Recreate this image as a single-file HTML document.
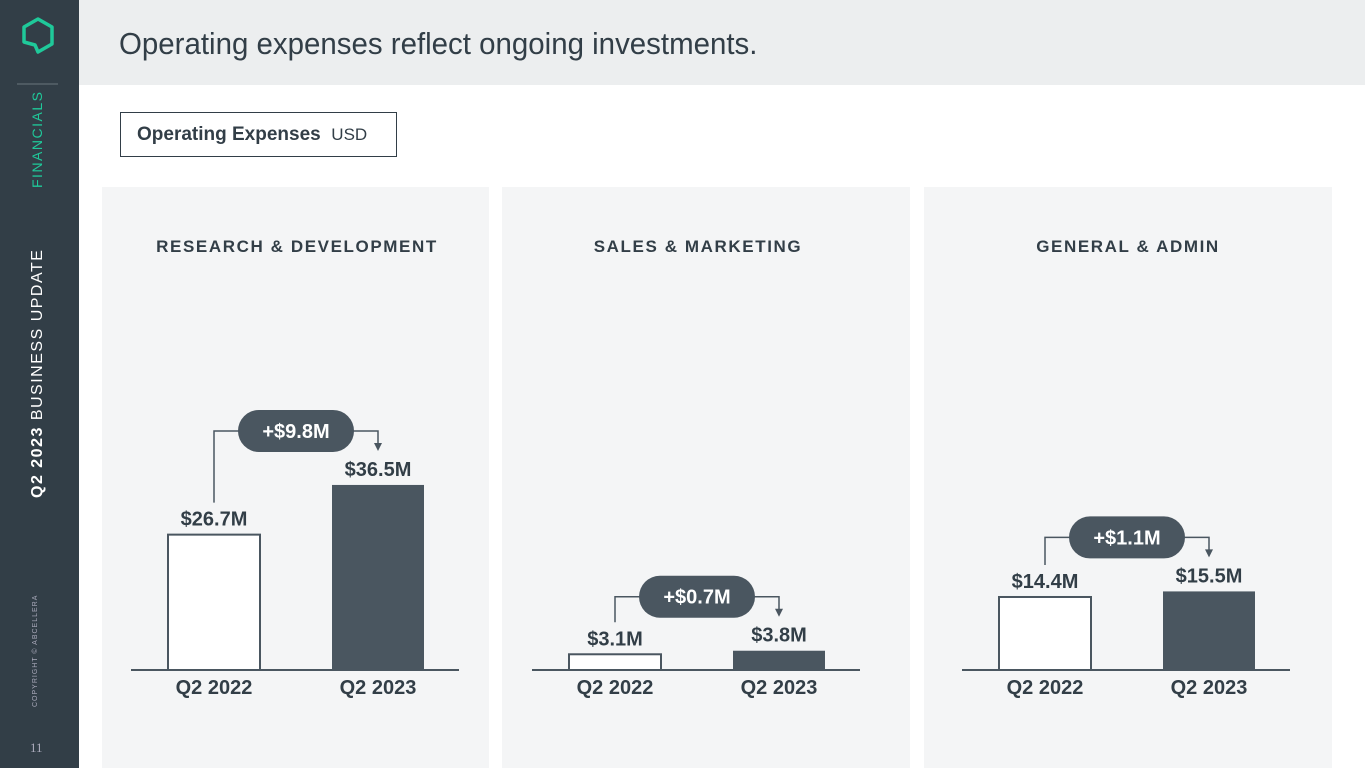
<!DOCTYPE html>
<html><head><meta charset="utf-8"><style>
body{margin:0;width:1365px;height:768px;overflow:hidden;background:#fff;font-family:"Liberation Sans",sans-serif;position:relative}
#side{position:absolute;left:0;top:0;width:79px;height:768px;background:#323e47}
#hdr{position:absolute;left:79px;top:0;width:1286px;height:85px;background:#eceeef}
#hdr h1{margin:0;position:absolute;left:40px;top:26px;font-weight:400;font-size:31px;color:#323e47;letter-spacing:0px;transform:scaleX(.95);transform-origin:left;white-space:nowrap}
#usd{position:absolute;left:120px;top:112px;width:277px;height:45px;border:1px solid #323e47;box-sizing:border-box;font-size:19px;color:#323e47;line-height:43px;padding-left:16px}
.panel{position:absolute;top:187px;height:581px;background:#f4f5f6}
.rot{position:absolute;transform:rotate(-90deg);transform-origin:left top;white-space:nowrap}
svg{position:absolute;left:0;top:0}
</style></head><body>
<div id="side">
<svg width="79" height="100"><polygon points="24,27 38,19 52,27 52,44 38,52 35,45 24,42" fill="none" stroke="#1fc99a" stroke-width="3.5" stroke-linejoin="round"/><line x1="17" y1="84" x2="58" y2="84" stroke="#6b767e" stroke-width="1"/></svg>
<div class="rot" style="left:29px;top:188px;color:#1fc99a;font-size:14px;letter-spacing:1.5px">FINANCIALS</div>
<div class="rot" style="left:29px;top:498px;color:#fff;font-size:16px;letter-spacing:1.5px"><b>Q2 2023</b> BUSINESS UPDATE</div>
<div class="rot" style="left:32px;top:707px;color:#aab;font-size:7px;letter-spacing:1px">COPYRIGHT © ABCELLERA</div>
<div style="position:absolute;left:30px;top:740px;color:#aab;font-size:13px;font-family:'Liberation Serif',serif">11</div>
</div>
<div id="hdr"><h1>Operating expenses reflect ongoing investments.</h1></div>
<div id="usd"><b>Operating Expenses</b>&nbsp; <span style="font-size:17px">USD</span></div>
<div class="panel" style="left:102px;width:387px"></div>
<div class="panel" style="left:502px;width:408px"></div>
<div class="panel" style="left:924px;width:408px"></div>
<svg id="chart" width="1365" height="768"></svg>
<script>
const categories=["RESEARCH & DEVELOPMENT","SALES & MARKETING","GENERAL & ADMIN"];
const years=["Q2 2022","Q2 2023"];
const v2022=[26.7,3.1,14.4];
const v2023=[36.5,3.8,15.5];
const deltas=["+$9.8M","+$0.7M","+$1.1M"];
const lbl2022=["$26.7M","$3.1M","$14.4M"];
const lbl2023=["$36.5M","$3.8M","$15.5M"];
const panelX=[131,532,962];
const base=670, scale=5.07, C="#4a5660";
const y=v=>base-v*scale;
const svg=document.getElementById('chart');const NS="http://www.w3.org/2000/svg";
function mk(t,a,txt){const e=document.createElementNS(NS,t);for(const k in a)e.setAttribute(k,a[k]);if(txt!=null)e.textContent=txt;svg.appendChild(e);return e;}
categories.forEach((c,i)=>{
 const x0=panelX[i];
 let e=mk('text',{x:x0+166,y:252,'text-anchor':'middle','font-size':17,'font-weight':'bold',fill:'#323e47','letter-spacing':1.6,'font-family':'Liberation Sans'},c);
 
 
 e=mk('line',{x1:x0,x2:x0+328,y1:base,y2:base,stroke:C,'stroke-width':2});
 
 
 const b1x=x0+37,b2x=x0+201,w=92;
 const t1=y(v2022[i]),t2=y(v2023[i]);
 e=mk('rect',{x:b1x,y:t1,width:w,height:base-t1,fill:'#fff',stroke:C,'stroke-width':2});
 
 
 e=mk('rect',{x:b2x,y:t2,width:w,height:base-t2,fill:C});
 
 
 e=mk('text',{x:b1x+w/2,y:t1-9,'text-anchor':'middle','font-size':20,'font-weight':'bold',fill:'#323e47'},lbl2022[i]);
 
 
 e=mk('text',{x:b2x+w/2,y:t2-9,'text-anchor':'middle','font-size':20,'font-weight':'bold',fill:'#323e47'},lbl2023[i]);
 
 
 [b1x,b2x].forEach((bx,j)=>{e=mk('text',{x:bx+w/2,y:694,'text-anchor':'middle','font-size':20,'font-weight':'bold',fill:'#323e47'},years[j]);
 
 });
 const py=Math.min(t1,t2)-54, c1=b1x+w/2, c2=b2x+w/2, pc=(c1+c2)/2;
 e=mk('polyline',{points:`${c1},${t1-32} ${c1},${py} ${c2},${py} ${c2},${py+14}`,fill:'none',stroke:C,'stroke-width':1.5});
 
 
 e=mk('polygon',{points:`${c2-4},${py+12} ${c2+4},${py+12} ${c2},${py+20}`,fill:C});
 
 
 e=mk('rect',{x:pc-58,y:py-21,width:116,height:42,rx:21,fill:C});
 
 
 e=mk('text',{x:pc,y:py+7,'text-anchor':'middle','font-size':20,'font-weight':'bold',fill:'#fff'},deltas[i]);
 
 
});
</script>
</body></html>
